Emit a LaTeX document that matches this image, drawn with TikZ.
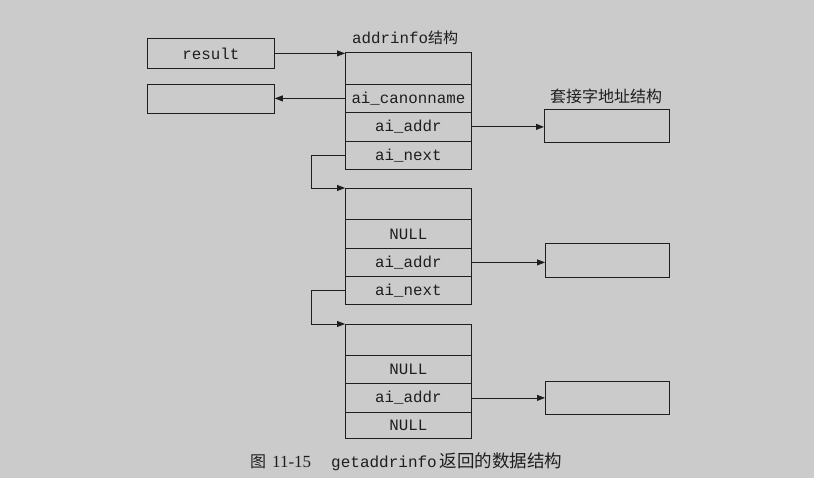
\documentclass[tikz,border=0pt]{standalone}
\usepackage{fontspec}
\setmainfont{Liberation Serif}
\setmonofont{Liberation Mono}
\newfontfamily\cjk{Noto Sans CJK SC}
\usetikzlibrary{arrows.meta}
\definecolor{bg}{HTML}{CBCBCB}
\definecolor{ink}{HTML}{1E1E1E}
\tikzset{
  field/.style={draw=ink, line width=0.8pt, minimum width=126pt, inner sep=0pt, anchor=north west,
    font=\fontsize{15.8}{18}\selectfont\ttfamily, text=ink},
  plainbox/.style={draw=ink, line width=0.8pt, inner sep=0pt, anchor=north west,
    font=\fontsize{15.8}{18}\selectfont\ttfamily, text=ink},
  arr/.style={draw=ink, line width=0.8pt, -{Triangle[length=8pt,width=6pt]}},
  conn/.style={draw=ink, line width=0.8pt},
  lbl/.style={inner sep=0pt, text=ink}
}
\begin{document}
\begin{tikzpicture}[x=1pt,y=-1pt]
\fill[bg] (0,0) rectangle (814,478);
\useasboundingbox (0,0) rectangle (814,478);

% left boxes
\node[plainbox, minimum width=127pt, minimum height=30pt] (result) at (147,38) {result};
\node[plainbox, minimum width=127pt, minimum height=29pt] (canon) at (147,84) {};

% struct 1
\node[lbl, anchor=west] (lab1) at (352,38) {\fontsize{15.8}{18}\selectfont\ttfamily addrinfo{\cjk\fontsize{15}{18}\selectfont 结构}};
\node[field, minimum height=32pt] (s1a) at (345,52) {};
\node[field, minimum height=28pt] (s1b) at (345,84) {ai\_canonname};
\node[field, minimum height=29pt] (s1c) at (345,112) {ai\_addr};
\node[field, minimum height=28pt] (s1d) at (345,141) {ai\_next};

% struct 2
\node[field, minimum height=31pt] (s2a) at (345,188) {};
\node[field, minimum height=29pt] (s2b) at (345,219) {NULL};
\node[field, minimum height=28pt] (s2c) at (345,248) {ai\_addr};
\node[field, minimum height=28pt] (s2d) at (345,276) {ai\_next};

% struct 3
\node[field, minimum height=31pt] (s3a) at (345,324) {};
\node[field, minimum height=28pt] (s3b) at (345,355) {NULL};
\node[field, minimum height=29pt] (s3c) at (345,383) {ai\_addr};
\node[field, minimum height=26pt] (s3d) at (345,412) {NULL};

% socket address boxes
\node[lbl] (lab2) at (606,96) {\cjk\fontsize{16}{18}\selectfont 套接字地址结构};
\node[plainbox, minimum width=125pt, minimum height=33pt] (sock1) at (544,109) {};
\node[plainbox, minimum width=124pt, minimum height=34pt] (sock2) at (545,243) {};
\node[plainbox, minimum width=124pt, minimum height=33pt] (sock3) at (545,381) {};

% bend coordinates
\coordinate (j1) at (311,0);
\coordinate (j2) at (311,0);

% connectors
\draw[arr] (result.east) -- (result.east -| s1a.west);
\draw[arr] (s1b.west) -- (s1b.west -| canon.east);
\draw[arr] (s1c.east) -- (s1c.east -| sock1.west);
\draw[arr] (s1d.west) -- (s1d.west -| j1) |- (s2a.north west);
\draw[arr] (s2c.east) -- (s2c.east -| sock2.west);
\draw[arr] (s2d.west) -- (s2d.west -| j2) |- (s3a.north west);
\draw[arr] (s3c.east) -- (s3c.east -| sock3.west);

% caption
\node[lbl, anchor=west] (cap) at (250,462) {{\cjk\fontsize{16}{18}\selectfont 图}\hspace{6pt}{\fontsize{17}{18}\selectfont 11-15}\hspace{20pt}{\fontsize{16}{18}\selectfont\ttfamily getaddrinfo}\hspace{3pt}{\cjk\fontsize{17.5}{18}\selectfont 返回的数据结构}};
\end{tikzpicture}
\end{document}
